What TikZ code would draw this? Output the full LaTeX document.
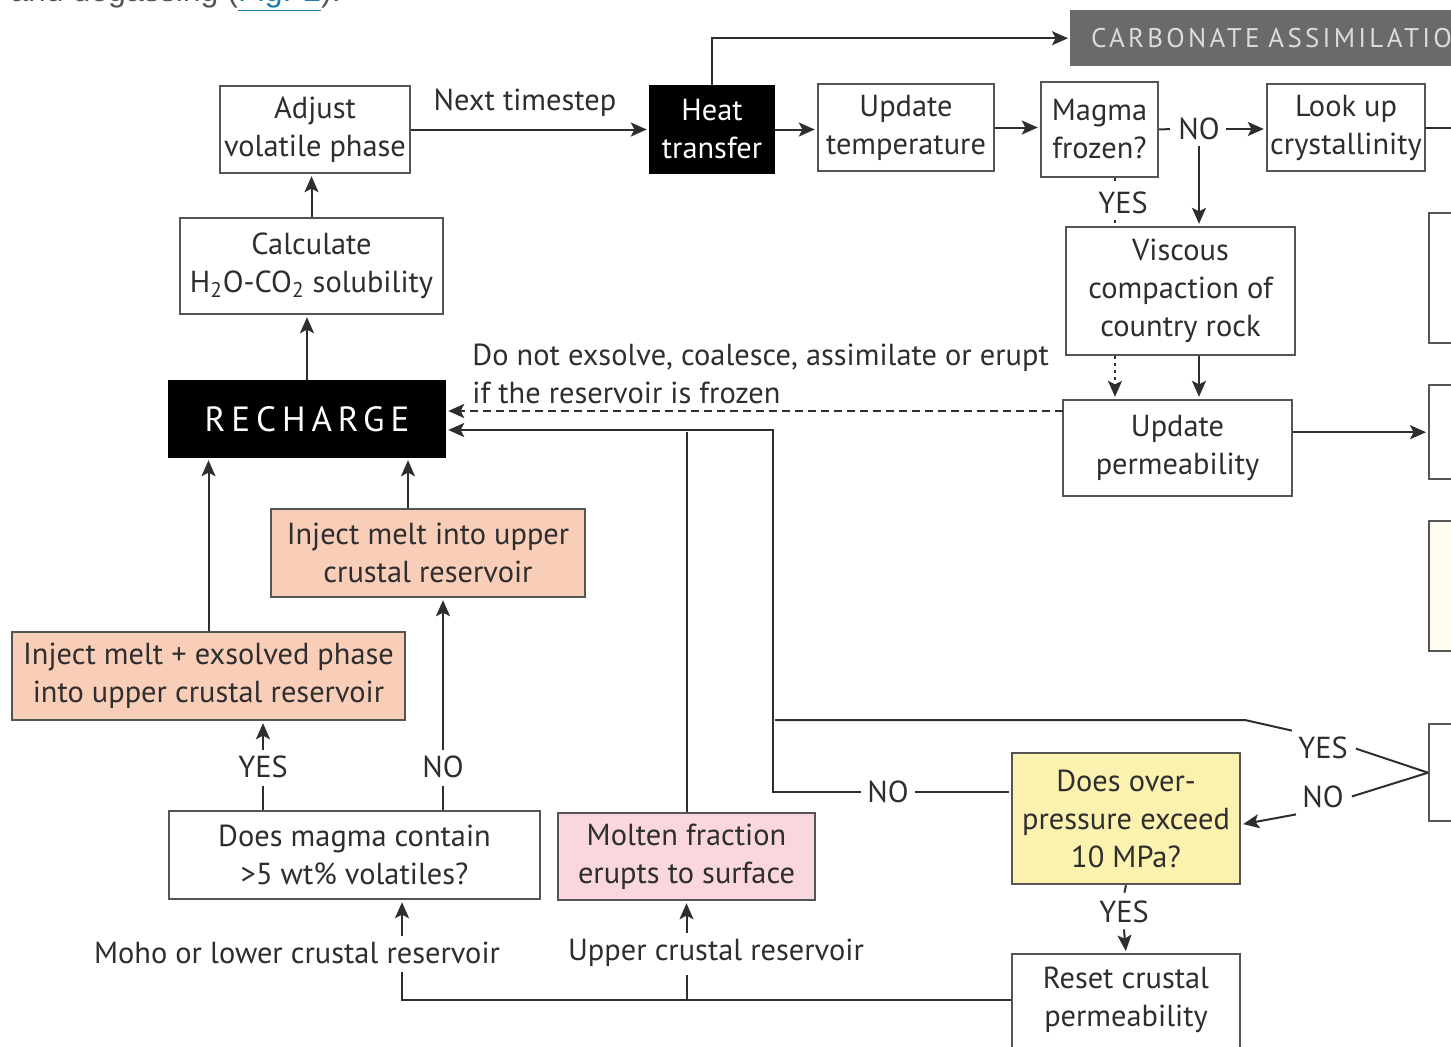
\documentclass[tikz,border=0pt]{standalone}
\usepackage{fontspec}
\setmainfont{PT Sans}
\newfontfamily\spaced[LetterSpace=12]{PT Sans}
\newfontfamily\widespaced[LetterSpace=17]{PT Sans}
\newfontfamily\webfont{Liberation Sans}
\usetikzlibrary{arrows.meta,calc,positioning}
\definecolor{ink}{HTML}{2E2E2E}
\definecolor{edge}{HTML}{555555}
\definecolor{slate}{HTML}{6A6A6A}
\definecolor{salmon}{HTML}{F9CEB9}
\definecolor{blush}{HTML}{FAD7DE}
\definecolor{butter}{HTML}{FBF2B0}
\definecolor{cream}{HTML}{FFFDF0}
\definecolor{webgrey}{HTML}{555555}
\definecolor{linkblue}{HTML}{1B7FA5}
\tikzset{>={Stealth[length=8pt,width=7pt,inset=1.8pt]},
  every node/.style={font=\fontsize{15.2}{19}\selectfont,text=ink},
  wh/.style 2 args={minimum width=(#1)*.5pt,minimum height=(#2)*.5pt},
  flowbox/.style={draw=edge,line width=1.2pt,fill=white,align=center,inner sep=0pt},
  blackbox/.style={flowbox,draw=black,fill=black,text=white},
  tag/.style={inner sep=3pt,align=center},
  link/.style={draw=ink,line width=1pt,shorten >=1pt},
  frozenlink/.style={link,dash pattern=on 4pt off 2.5pt},
  dotlink/.style={link,dash pattern=on 1.5pt off 2pt}}
\begin{document}
\begin{tikzpicture}[x=.5pt,y=-.5pt]
\useasboundingbox (0,0) rectangle (1451,1046);\clip (0,0) rectangle (1451,1046);
\node[anchor=base west,inner sep=0pt,font=\webfont\fontsize{16}{19}\selectfont,text=webgrey] (intro) at (10,1) {and degassing (\textcolor{linkblue}{\underline{Fig. 2}}).};
\node[flowbox,wh={190}{87}] (adjust) at (315,129.5) {Adjust\\volatile phase};
\node[flowbox,wh={263}{96}] (calc) at (311.5,266) {Calculate\\H\textsubscript{2}O-CO\textsubscript{2} solubility};
\node[blackbox,wh={276}{76},font=\widespaced\fontsize{17.5}{19}\selectfont] (recharge) at (307,419) {RECHARGE};
\node[blackbox,wh={124}{87}] (heat) at (712,129.5) {Heat\\transfer};
\node[flowbox,wh={176}{87}] (updtemp) at (906,127.5) {Update\\temperature};
\node[flowbox,wh={117}{95}] (frz) at (1099.5,129.5) {Magma\\frozen?};
\node[flowbox,wh={158}{87}] (lookup) at (1346,127.5) {Look up\\crystallinity};
\node[flowbox,draw=slate,fill=slate,anchor=north west,inner xsep=10pt,text width=230pt,align=left,minimum height=27pt,text=white!86!black,font=\spaced\fontsize{13.5}{16}\selectfont] (carb) at (1070,10) {CARBONATE ASSIMILATION};
\node[flowbox,wh={229}{128}] (visc) at (1180.5,291) {Viscous\\compaction of\\country rock};
\node[flowbox,wh={229}{96}] (perm) at (1177.5,448) {Update\\permeability};
\foreach \t/\b/\c [count=\i] in {212/342/white,384/478/white,520/650/cream,723/820/white}
  \node[flowbox,fill=\c,anchor=north west,wh={200}{\b-\t}] (edge\i) at (1428,\t) {};
\node[flowbox,fill=salmon,wh={314}{88}] (injup) at (428,553) {Inject melt into upper\\crustal reservoir};
\node[flowbox,fill=salmon,wh={393}{88}] (injex) at (208.5,676) {Inject melt + exsolved phase\\into upper crustal reservoir};
\node[flowbox,wh={371}{88}] (doesmag) at (354.5,855) {Does magma contain\\>5 wt\% volatiles?};
\node[flowbox,fill=blush,wh={257}{87}] (molten) at (686.5,856.5) {Molten fraction\\erupts to surface};
\node[flowbox,fill=butter,wh={228}{131}] (overp) at (1126,818.5) {Does over-\\pressure exceed\\10 MPa?};
\node[flowbox,anchor=north,wh={228}{100}] (reset) at (1126,953) {};
\node[tag] at (1126,1000) {Reset crustal\\permeability};
\node[tag] (next) at (525,103) {Next timestep};
\node[tag] (no1) at (1199,129) {NO};
\node[tag] (yes0) at (1123,203) {YES};
\node[tag,anchor=west,align=left] (frznote) at (466,373.5) {Do not exsolve, coalesce, assimilate or erupt\\if the reservoir is frozen};
\node[tag] (yes1) at (263,767) {YES};\node[tag] (no2) at (443,767) {NO};
\node[tag] (no3) at (888,792) {NO};
\node[tag] (yes2) at (1323,748) {YES};\node[tag] (no4) at (1323,797) {NO};
\node[tag] (yes3) at (1124,912) {YES};
\node[tag] (moho) at (297,953) {Moho or lower crustal reservoir};
\node[tag] (upper) at (716,953) {Upper crustal reservoir};
\coordinate (dx) at (1115,0);\coordinate (j1) at (773,430);\coordinate (b1) at (1245,720);
\coordinate (d0) at (1063,411);\coordinate (lowin) at (402,1000);\coordinate (upin) at (molten.south |- lowin);
\draw[link,->] (adjust.east) -- (heat.west);
\draw[link,->] (heat.north) |- (carb.west);
\draw[link,->] (heat.east) -- (heat.east -| updtemp.west);
\draw[link,->] (updtemp.east) -- (updtemp.east -| frz.west);
\draw[link] (frz.east) -- (no1.west);\draw[link,->] (no1.east) -- (no1.east -| lookup.west);
\draw[link,->] (lookup.east) -- ++(45,0);
\draw[link,->] (no1.south) -- (no1 |- visc.north);\draw[link,->] (no1 |- visc.south) -- (no1 |- perm.north);
\draw[dotlink] (dx |- frz.south) -- (dx |- yes0.north);\draw[dotlink] (dx |- yes0.south) -- (dx |- visc.north);
\draw[dotlink,->] (dx |- visc.south) -- (dx |- perm.north);
\draw[link,->] (perm.east |- edge2.west) -- (edge2.west);
\draw[frozenlink,->] (d0) -- (d0 -| recharge.east);
\draw[link,->] (no3.west) -| (j1) -- (j1 -| recharge.east);
\draw[link] (molten.north) -- (molten.north |- j1);
\draw[link] (yes2.north west) -- (b1) -- (b1 -| j1);
\draw[link] (edge4.west) -- (yes2.east);\draw[link] (edge4.west) -- (no4.east);
\draw[link,->] (no4.south west) -- ($(overp.east)+(0,6)$);
\draw[link] (no3.east) -- (no3.east -| overp.west);
\draw[link] (overp.south) -- (yes3.north);\draw[link,->] (yes3.south) -- (reset.north);
\draw[link] (reset.west |- lowin) -| (lowin |- moho.south);\draw[link] (upin) -- (upin |- upper.south);
\draw[link,->] (lowin |- moho.north) -- (lowin |- doesmag.south);
\draw[link,->] (upin |- upper.north) -- (molten.south);
\draw[link] (doesmag.north -| yes1) -- (yes1.south);\draw[link,->] (yes1.north) -- (yes1 |- injex.south);
\draw[link] (doesmag.north -| no2) -- (no2.south);\draw[link,->] (no2.north) -- (no2 |- injup.south);
\draw[link,->] (injex.north) -- (injex.north |- recharge.south);
\draw[link,->] ([xshift=-10pt]injup.north) -- ([xshift=-10pt]injup.north |- recharge.south);
\draw[link,->] (recharge.north) -- (recharge.north |- calc.south);
\draw[link,->] (calc.north) -- (calc.north |- adjust.south);
\end{tikzpicture}
\end{document}
